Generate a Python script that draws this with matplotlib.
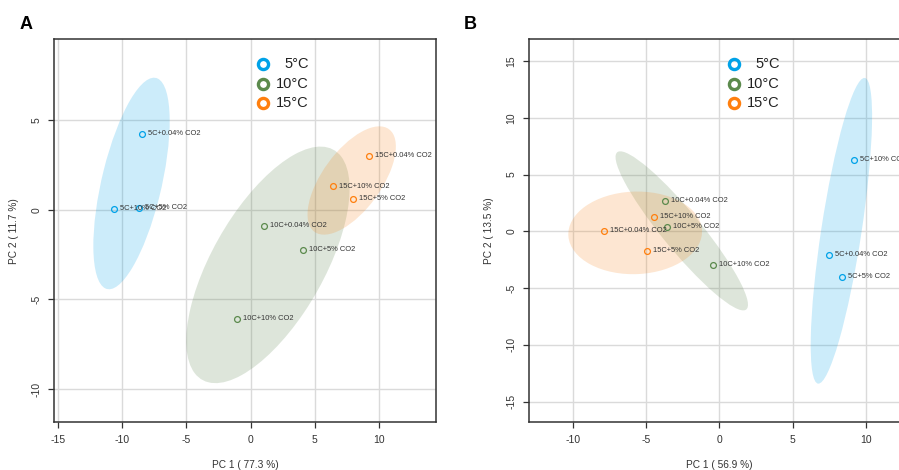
import numpy as np
import matplotlib.pyplot as plt
from matplotlib.patches import Ellipse

plt.rcParams['font.family'] = ['Liberation Sans', 'DejaVu Sans']
plt.rcParams['axes.unicode_minus'] = False

# sample scores per panel (PC1, PC2), grouped by temperature
groups = ["5°C", "10°C", "15°C"]
colors = ["#00A2E8", "#5B8A4C", "#FF7F0E"]
fill_colors = ["#00A2E8", "#58804A", "#F7861E"]

labels_a = [
    ["5C+0.04% CO2", "5C+10% CO2", "5C+5% CO2"],
    ["10C+0.04% CO2", "10C+5% CO2", "10C+10% CO2"],
    ["15C+0.04% CO2", "15C+10% CO2", "15C+5% CO2"],
]
pc1_a = [[-8.47, -10.67, -8.68], [1.05, 4.08, -1.09], [9.2, 6.4, 8.0]]
pc2_a = [[4.25, 0.03, 0.12], [-0.9, -2.23, -6.09], [3.0, 1.3, 0.6]]

labels_b = [
    ["5C+10% CO2", "5C+0.04% CO2", "5C+5% CO2"],
    ["10C+0.04% CO2", "10C+5% CO2", "10C+10% CO2"],
    ["15C+10% CO2", "15C+0.04% CO2", "15C+5% CO2"],
]
pc1_b = [[9.17, 7.46, 8.35], [-3.68, -3.57, -0.43], [-4.43, -7.87, -4.91]]
pc2_b = [[6.3, -2.11, -4.05], [2.7, 0.41, -2.99], [1.26, 0.03, -1.7]]

t95 = np.sqrt(-2 * np.log(0.05))  # sqrt(qchisq(0.95, 2))


def conf_ellipse(ax, x, y, color):
    x = np.asarray(x)
    y = np.asarray(y)
    cov = np.cov(x, y)
    vals, vecs = np.linalg.eigh(cov)
    angle = np.degrees(np.arctan2(vecs[1, 1], vecs[0, 1]))
    e = Ellipse((x.mean(), y.mean()), 2 * t95 * np.sqrt(vals[1]),
                2 * t95 * np.sqrt(vals[0]), angle=angle,
                facecolor=color, alpha=0.2, edgecolor='none', zorder=1)
    ax.add_patch(e)


def panel(ax, pc1, pc2, labels, xlim, ylim, xticks, yticks, xlab, ylab, leg_x):
    ax.set_xlim(*xlim)
    ax.set_ylim(*ylim)
    ax.set_xticks(xticks)
    ax.set_yticks(yticks)
    ax.grid(True, color='#DADADA', lw=1.0, zorder=0)
    ax.set_axisbelow(True)
    for g in range(3):
        conf_ellipse(ax, pc1[g], pc2[g], fill_colors[g])
        ax.plot(pc1[g], pc2[g], 'o', mfc='none', mec=colors[g], ms=4.2,
                mew=0.9, zorder=3)
        for xx, yy, lab in zip(pc1[g], pc2[g], labels[g]):
            ax.annotate(lab, (xx, yy), xytext=(4.3, 0.3),
                        textcoords='offset points', fontsize=5.4,
                        color='#333333', va='center', ha='left', zorder=4)
    for s in ax.spines.values():
        s.set_color('#333333')
        s.set_linewidth(1.1)
    ax.tick_params(direction='out', length=4, width=0.9, color='#333333',
                   labelsize=7.5, labelcolor='#333333', pad=5.5)
    ax.tick_params(axis='y', labelrotation=90, pad=5)
    for t in ax.get_yticklabels():
        t.set_va('center')
    ax.set_xlabel(xlab, fontsize=7.3, color='#333333', labelpad=11)
    ax.set_ylabel(ylab, fontsize=7.3, color='#333333', labelpad=9)
    # legend
    for i, g in enumerate(groups):
        yy = 0.935 - i * 0.051
        ax.plot([leg_x], [yy], 'o', transform=ax.transAxes, mfc='none',
                mec=colors[i], ms=7.3, mew=2.4, clip_on=False, zorder=5)
        ax.text(leg_x + 0.12, yy, g, transform=ax.transAxes, fontsize=10.5,
                ha='right', va='center', color='#222222', zorder=5)


fig = plt.figure(figsize=(8.99, 4.70), dpi=100)
ax_a = fig.add_axes([0.0606, 0.1021, 0.4244, 0.8139])
ax_b = fig.add_axes([0.5884, 0.1021, 0.4244, 0.8139])

panel(ax_a, pc1_a, pc2_a, labels_a, (-15.27, 14.43), (-11.84, 9.5),
      [-15, -10, -5, 0, 5, 10], [-10, -5, 0, 5],
      "PC 1 ( 77.3 %)", "PC 2 ( 11.7 %)", 0.547)
panel(ax_b, pc1_b, pc2_b, labels_b, (-12.98, 13.04), (-16.8, 16.9),
      [-10, -5, 0, 5, 10], [-15, -10, -5, 0, 5, 10, 15],
      "PC 1 ( 56.9 %)", "PC 2 ( 13.5 %)", 0.537)

fig.text(0.022, 0.938, "A", fontsize=13, fontweight='bold')
fig.text(0.516, 0.938, "B", fontsize=13, fontweight='bold')

fig.savefig("out.png", dpi=100)
